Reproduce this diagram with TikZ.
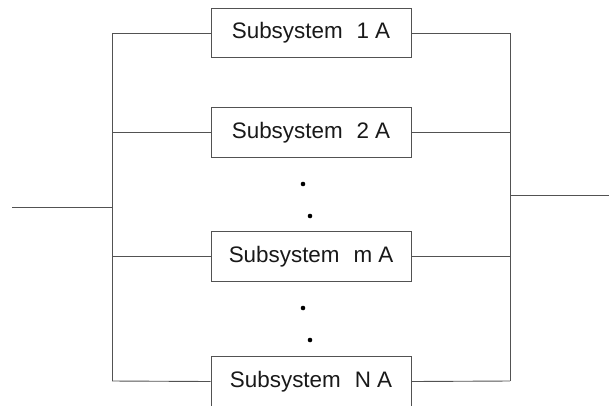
\documentclass[tikz,border=0pt]{standalone}
\usepackage{fontspec}
\setmainfont{Liberation Sans}
\begin{document}
\begin{tikzpicture}[x=1bp,y=-1bp,
  line/.style={draw=black!68, line width=0.9bp},
  sub/.style={line, rectangle, minimum width=200bp, minimum height=49.5bp, inner sep=0pt,
    font=\fontsize{22.5}{24}\selectfont, text=black!90, fill=white},
  dotnode/.style={circle, fill=black, inner sep=0pt, minimum size=4.6bp}]
\useasboundingbox (0,0) rectangle (613,405);
\begin{scope}
\clip (0,0) rectangle (613,405);
% left and right bus coordinates
\coordinate (in) at (12,207);
\coordinate (lt) at (112,33);
\coordinate (lb) at (112,381);
\coordinate (lm) at (112,207);
\coordinate (rt) at (510,33);
\coordinate (rb) at (510,381);
\coordinate (rm) at (510,195);
\coordinate (out) at (609,195);
% boxes
\node[sub] (s1) at (311,33) {Subsystem\hspace{14bp}1\hspace{6bp}A};
\node[sub] (s2) at (311,132.5) {Subsystem\hspace{14bp}2\hspace{6bp}A};
\node[sub] (sm) at (311,256.5) {Subsystem\hspace{14bp}m\hspace{6bp}A};
\node[sub] (sn) at (311,381.5) {Subsystem\hspace{14bp}N\hspace{6bp}A};
% dots
\node[dotnode] (d1) at (303,184) {};
\node[dotnode] (d2) at (310,216) {};
\node[dotnode] (d3) at (303,308) {};
\node[dotnode] (d4) at (310,340) {};
% buses
\draw[line] (lt) -- (lb);
\draw[line] (rt) -- (rb);
\draw[line] (in) -- (lm);
\draw[line] (rm) -- (out);
% branches
\draw[line] (lt) -- (s1.west);
\draw[line] (s1.east) -- (rt);
\draw[line] (112,132.5) -- (s2.west);
\draw[line] (s2.east) -- (510,132.5);
\draw[line] (112,256.5) -- (sm.west);
\draw[line] (sm.east) -- (510,256.5);
\draw[line] (lb) -- (sn.west);
\draw[line] (sn.east) -- (rb);
\end{scope}
\end{tikzpicture}
\end{document}
